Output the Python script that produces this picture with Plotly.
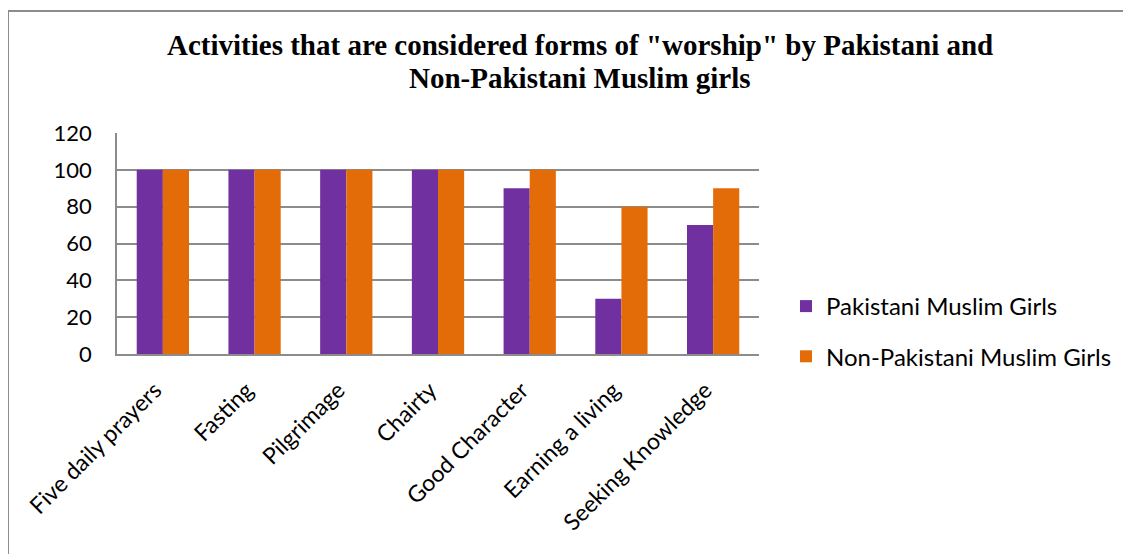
import plotly.graph_objects as go

categories = ["Five daily prayers", "Fasting", "Pilgrimage", "Chairty",
              "Good Character", "Earning a living", "Seeking Knowledge"]
pakistani = [100, 100, 100, 100, 90, 30, 70]
non_pakistani = [100, 100, 100, 100, 100, 80, 90]
y_ticks = [0, 20, 40, 60, 80, 100, 120]
title_lines = ["Activities that are considered forms of \"worship\" by Pakistani and",
               "Non-Pakistani Muslim girls"]

OFF = 8  # page body margin
W, H = 1131 - OFF, 554 - OFF
# plot area in page coords: x 117..759, y 133..354
L = 117 - OFF
T = 133 - OFF
R = W - (759 - OFF)
B = H - (354 - OFF)
pw, ph = W - L - R, H - T - B

def px(xp):  # page x -> paper
    return (xp - OFF - L) / pw

def py(yp):  # page y -> paper
    return (H - B - (yp - OFF)) / ph

fig = go.Figure()
fig.add_trace(go.Bar(x=categories, y=pakistani, name="Pakistani Muslim Girls",
                     legendgroup="a",
                     marker=dict(color="#7030A0", line=dict(width=0))))
fig.add_trace(go.Bar(x=categories, y=non_pakistani, name="Non-Pakistani Muslim Girls",
                     legendgroup="b",
                     marker=dict(color="#E36C09", line=dict(width=0))))

font_tick = "Lato, Calibri, 'Open Sans', sans-serif"
title_font = dict(family="'Liberation Serif', 'Times New Roman', serif", size=29,
                  color="black", weight="bold")

for text, yc in zip(title_lines, [45, 78]):
    fig.add_annotation(text=text, xref="paper", yref="paper", x=px(580), y=py(yc),
                       xanchor="center", yanchor="middle", showarrow=False, font=title_font)

fig.update_layout(
    width=W, height=H,
    margin=dict(l=L, r=R, t=T, b=B, autoexpand=False),
    paper_bgcolor="white", plot_bgcolor="white",
    barmode="group", bargap=0.43, bargroupgap=0,
    legend=dict(
        x=px(786), y=py(284), xref="paper", yref="paper",
        xanchor="left", yanchor="top",
        font=dict(family=font_tick, size=24, color="black"),
        itemwidth=30, tracegroupgap=16, traceorder="grouped",
        bgcolor="rgba(0,0,0,0)",
    ),
    xaxis=dict(
        showgrid=False, showline=True, linecolor="#8c8c8c", linewidth=1.5,
        tickangle=-45, ticks="", ticklabelstandoff=12, ticklabelshift=-8,
        tickfont=dict(family=font_tick, size=23, color="black"),
        automargin=False,
    ),
    yaxis=dict(
        range=[0, 120], tickvals=y_ticks, showgrid=True, gridcolor="#8c8c8c", gridwidth=1.5,
        showline=True, linecolor="#8c8c8c", linewidth=1.5, zeroline=False,
        ticks="", ticklabelstandoff=19,
        tickfont=dict(family=font_tick, size=22, color="black"), automargin=False,
    ),
    showlegend=True,
)

# outer chart border (left/top edges visible)
fig.add_shape(type="rect", xref="paper", yref="paper",
              x0=px(8), x1=px(1145),
              y0=py(570), y1=py(11),
              line=dict(color="#8c8c8c", width=2), fillcolor="rgba(0,0,0,0)", layer="below")

fig.write_html("out.html")
